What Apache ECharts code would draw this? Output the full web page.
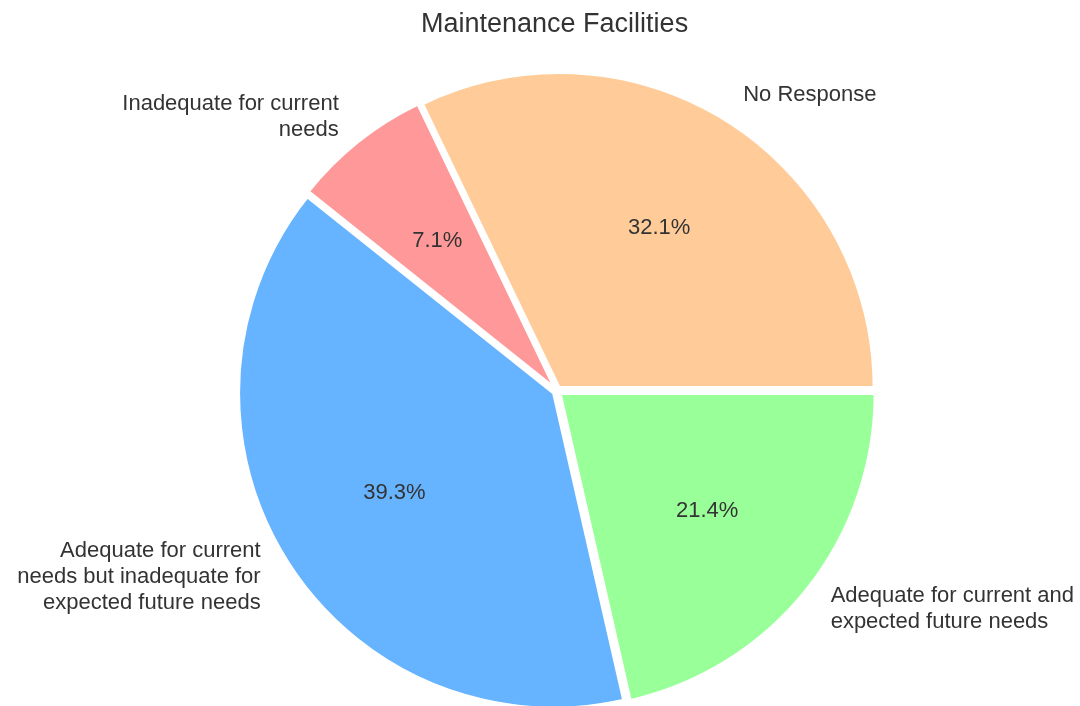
<!DOCTYPE html>
<html>
<head>
<meta charset="utf-8">
<script src="https://cdn.jsdelivr.net/npm/echarts@6/dist/echarts.min.js"></script>
<style>
html,body{margin:0;padding:0;background:#fff;}
#chart{width:1080px;height:706px;}
</style>
</head>
<body>
<div id="chart"></div>
<script>
const title = 'Maintenance Facilities';
const categories = [
  'No Response',
  'Inadequate for current\nneeds',
  'Adequate for current\nneeds but inadequate for\nexpected future needs',
  'Adequate for current and\nexpected future needs'
];
const values = [9, 2, 11, 6];
const colors = ['#ffcc99', '#ff9999', '#66b3ff', '#99ff99'];

const total = values.reduce((a, b) => a + b, 0);
const FONT = '"Liberation Sans", Arial, sans-serif';
const TEXT = '#333333';
const center = [557, 391];
const R = 315;

const chart = echarts.init(document.getElementById('chart'));
chart.setOption({
  backgroundColor: '#ffffff',
  animation: false,
  title: {
    text: title,
    left: 416,
    top: 6,
    textStyle: {fontFamily: FONT, fontSize: 27, fontWeight: 'normal', color: TEXT}
  },
  series: [
    {
      type: 'pie',
      z: 2,
      center: center,
      radius: [0, R],
      startAngle: 0,
      clockwise: false,
      avoidLabelOverlap: false,
      selectedMode: 'multiple',
      selectedOffset: 4,
      silent: true,
      itemStyle: {borderColor: '#ffffff', borderWidth: 3},
      label: {
        show: true,
        position: 'outside',
        fontFamily: FONT,
        fontSize: 22,
        lineHeight: 26,
        color: TEXT,
        distanceToLabelLine: 0,
        formatter: p => p.name
      },
      labelLine: {show: false, length: 31, length2: 0},
      data: categories.map((c, i) => ({
        name: c,
        value: values[i],
        selected: true,
        itemStyle: {color: colors[i]},
        select: {itemStyle: {color: colors[i], borderColor: '#ffffff', borderWidth: 3}}
      }))
    },
    {
      type: 'pie',
      z: 5,
      center: center,
      radius: [R * 0.2, R],
      startAngle: 0,
      clockwise: false,
      avoidLabelOverlap: false,
      silent: true,
      itemStyle: {color: 'rgba(0,0,0,0)', borderWidth: 0},
      label: {
        show: true,
        position: 'inside',
        fontFamily: FONT,
        fontSize: 22,
        color: TEXT,
        formatter: p => (p.value / total * 100).toFixed(1) + '%'
      },
      labelLine: {show: false},
      data: categories.map((c, i) => ({name: c, value: values[i]}))
    }
  ]
});
</script>
</body>
</html>
